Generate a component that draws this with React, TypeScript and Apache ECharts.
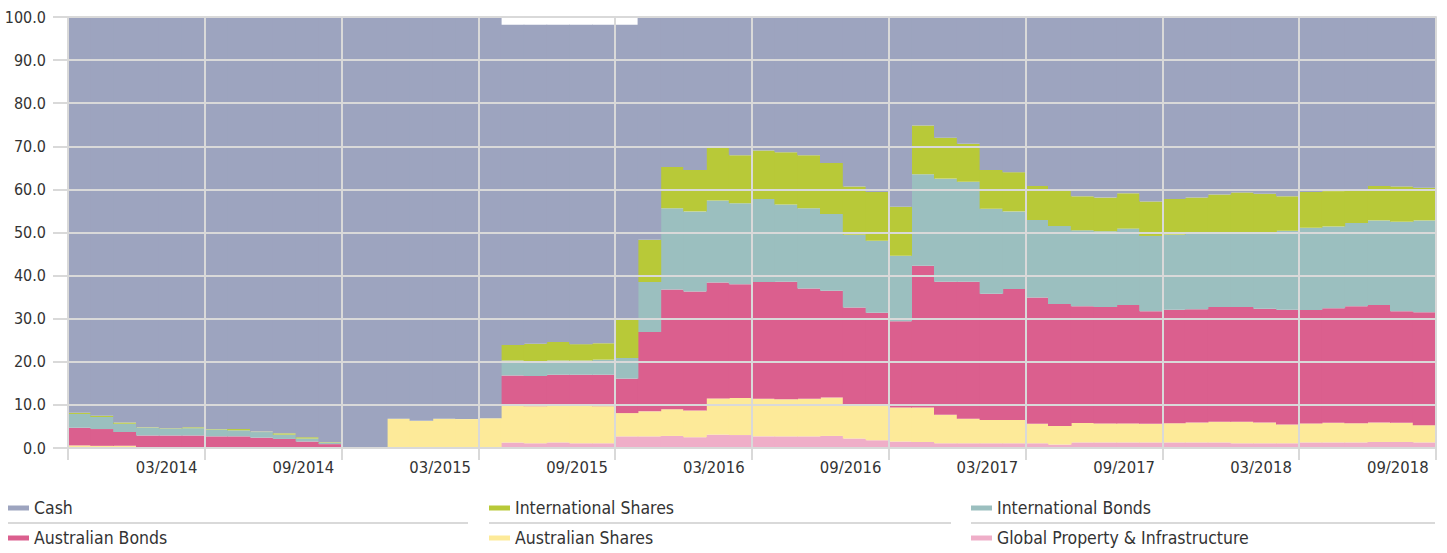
import React, { useEffect, useRef } from "react";
import * as echarts from "echarts";

const months: string[] = [
  "11/2013", "12/2013", "01/2014", "02/2014", "03/2014", "04/2014", "05/2014", "06/2014", "07/2014", "08/2014", "09/2014", "10/2014",
  "11/2014", "12/2014", "01/2015", "02/2015", "03/2015", "04/2015", "05/2015", "06/2015", "07/2015", "08/2015", "09/2015", "10/2015",
  "11/2015", "12/2015", "01/2016", "02/2016", "03/2016", "04/2016", "05/2016", "06/2016", "07/2016", "08/2016", "09/2016", "10/2016",
  "11/2016", "12/2016", "01/2017", "02/2017", "03/2017", "04/2017", "05/2017", "06/2017", "07/2017", "08/2017", "09/2017", "10/2017",
  "11/2017", "12/2017", "01/2018", "02/2018", "03/2018", "04/2018", "05/2018", "06/2018", "07/2018", "08/2018", "09/2018", "10/2018",
];

const globalProperty: number[] = [
  0, 0, 0, 0, 0, 0, 0, 0, 0, 0, 0, 0,
  0, 0, 0, 0, 0, 0, 0, 1.3, 1.1, 1.3, 1.1, 1.1,
  2.7, 2.7, 2.8, 2.5, 3.1, 3.0, 2.7, 2.7, 2.7, 2.8, 2.2, 1.8,
  1.5, 1.4, 1.1, 1.1, 1.1, 1.1, 1.1, 0.8, 1.3, 1.3, 1.3, 1.3,
  1.3, 1.3, 1.3, 1.1, 1.1, 1.1, 1.3, 1.3, 1.3, 1.4, 1.4, 1.3,
];
const australianShares: number[] = [
  0.6, 0.5, 0.5, 0, 0, 0, 0, 0, 0, 0, 0, 0,
  0, 0, 6.8, 6.3, 6.8, 6.7, 6.9, 8.6, 8.6, 8.6, 8.7, 8.6,
  5.4, 5.8, 6.2, 6.2, 8.4, 8.6, 8.7, 8.6, 8.7, 8.9, 7.8, 8.0,
  7.9, 8.0, 6.6, 5.7, 5.4, 5.4, 4.5, 4.3, 4.5, 4.4, 4.4, 4.3,
  4.45, 4.6, 4.8, 5.0, 4.8, 4.35, 4.4, 4.55, 4.45, 4.5, 4.45, 4.0,
];
const australianBonds: number[] = [
  4.1, 3.9, 3.2, 2.9, 2.9, 2.9, 2.7, 2.7, 2.4, 2.1, 1.5, 0.9,
  0, 0, 0, 0, 0, 0, 0, 6.9, 7.0, 7.1, 7.2, 7.3,
  8.0, 18.4, 27.8, 27.6, 26.9, 26.4, 27.1, 27.3, 25.6, 24.8, 22.6, 21.6,
  20.0, 32.9, 30.9, 31.8, 29.3, 30.4, 29.3, 28.3, 27.1, 27.0, 27.5, 26.1,
  26.35, 26.3, 26.6, 26.6, 26.4, 26.65, 26.3, 26.55, 27.15, 27.3, 25.85, 26.2,
];
const internationalBonds: number[] = [
  3.2, 2.8, 1.9, 1.8, 1.6, 1.7, 1.6, 1.4, 1.3, 1.0, 0.7, 0.4,
  0, 0, 0, 0, 0, 0, 0, 3.5, 3.4, 3.3, 3.3, 3.5,
  4.8, 11.6, 18.8, 18.6, 19.0, 18.8, 19.3, 17.9, 18.6, 17.8, 16.9, 16.7,
  15.2, 21.2, 23.9, 23.2, 19.7, 18.0, 18.0, 18.1, 17.6, 17.6, 17.7, 17.5,
  17.4, 17.5, 17.1, 17.1, 17.7, 18.3, 19.1, 19.0, 19.3, 19.6, 20.8, 21.3,
];
const internationalShares: number[] = [
  0.3, 0.3, 0.3, 0.1, 0.1, 0.2, 0.1, 0.3, 0.1, 0.3, 0.3, 0.1,
  0, 0, 0, 0, 0, 0, 0, 3.6, 4.1, 4.3, 3.8, 3.8,
  8.8, 9.8, 9.6, 9.6, 12.2, 11.1, 11.2, 12.1, 12.3, 11.8, 11.2, 11.3,
  11.4, 11.3, 9.5, 8.8, 9.0, 9.1, 7.9, 8.2, 7.9, 7.8, 8.2, 8.0,
  8.3, 8.4, 9.0, 9.5, 9.0, 8.0, 8.3, 8.2, 7.7, 8.0, 8.2, 7.6,
];
const cash: number[] = [
  91.8, 92.5, 94.1, 95.2, 95.4, 95.2, 95.6, 95.6, 96.2, 96.6, 97.5, 98.6,
  100, 100, 93.2, 93.7, 93.2, 93.3, 93.1, 74.3, 74.0, 73.6, 74.1, 73.9,
  68.5, 51.7, 34.8, 35.5, 30.4, 32.1, 31.0, 31.4, 32.1, 33.9, 39.3, 40.6,
  44.0, 25.2, 28.0, 29.4, 35.5, 36.0, 39.2, 40.3, 41.6, 41.9, 40.9, 42.8,
  42.2, 41.9, 41.2, 40.7, 41.0, 41.6, 40.6, 40.4, 40.1, 39.2, 39.3, 39.6,
];

const seriesDefs = [
  { name: "Global Property & Infrastructure", data: globalProperty, color: "#efaec8" },
  { name: "Australian Shares", data: australianShares, color: "#fdea99" },
  { name: "Australian Bonds", data: australianBonds, color: "#db5f8e" },
  { name: "International Bonds", data: internationalBonds, color: "#9bbfbf" },
  { name: "International Shares", data: internationalShares, color: "#b8c938" },
  { name: "Cash", data: cash, color: "#9da4bf" },
];

const FONT = "'DejaVu Sans Condensed', 'Liberation Sans Narrow', sans-serif";
const GRID = "#d9d9d9";
const TEXT = "#333333";

export default function App() {
  const ref = useRef<HTMLDivElement>(null);

  useEffect(() => {
    if (!ref.current) return;
    const chart = echarts.init(ref.current, null, { renderer: "svg" });

    const legendCommon = {
      orient: "vertical" as const,
      top: 496,
      padding: 0,
      icon: "rect",
      itemWidth: 21,
      itemHeight: 5,
      itemGap: 6,
      selectedMode: false,
      textStyle: { fontFamily: FONT, fontSize: 17.5, color: TEXT, lineHeight: 24 },
    };

    const option: any = {
      animation: false,
      backgroundColor: "#ffffff",
      grid: { left: 68, right: 11, top: 17, height: 431, containLabel: false },
      xAxis: {
        type: "category",
        data: months,
        boundaryGap: true,
        z: 5,
        axisLine: { show: true, lineStyle: { color: GRID, width: 2 } },
        axisTick: {
          show: true,
          length: 12,
          interval: (i: number) => i % 6 === 0,
          lineStyle: { color: GRID, width: 2 },
        },
        splitLine: {
          show: true,
          interval: (i: number) => i % 6 === 0,
          lineStyle: { color: GRID, width: 2 },
        },
        axisLabel: {
          interval: (i: number) => i % 6 === 4,
          fontFamily: FONT,
          fontSize: 16.5,
          color: TEXT,
          margin: 11,
          formatter: (v: string) => "{a|" + v + "}",
          rich: {
            a: { fontFamily: FONT, fontSize: 16.5, color: TEXT, padding: [0, 8, 0, 0] },
          },
        },
      },
      yAxis: [
        {
          type: "value",
          min: 0,
          max: 100,
          interval: 10,
          z: 5,
          axisLine: { show: false },
          axisTick: { show: true, length: 15, lineStyle: { color: GRID, width: 2 } },
          splitLine: { show: true, lineStyle: { color: GRID, width: 2 } },
          axisLabel: {
            fontFamily: FONT,
            fontSize: 16,
            color: TEXT,
            margin: 22,
            formatter: (v: number) => v.toFixed(1),
          },
        },
        {
          type: "value",
          position: "right",
          min: 0,
          max: 100,
          interval: 10,
          z: 5,
          axisLine: { show: true, lineStyle: { color: GRID, width: 2 } },
          axisTick: { show: false },
          splitLine: { show: false },
          axisLabel: { show: false },
        },
      ],
      legend: [
        { ...legendCommon, left: 8, data: ["Cash", "Australian Bonds"] },
        { ...legendCommon, left: 489, data: ["International Shares", "Australian Shares"] },
        { ...legendCommon, left: 971, data: ["International Bonds", "Global Property & Infrastructure"] },
      ],
      graphic: [
        { type: "line", shape: { x1: 8, y1: 523, x2: 468, y2: 523 }, style: { stroke: GRID, lineWidth: 2 } },
        { type: "line", shape: { x1: 489, y1: 523, x2: 951, y2: 523 }, style: { stroke: GRID, lineWidth: 2 } },
        { type: "line", shape: { x1: 971, y1: 523, x2: 1435, y2: 523 }, style: { stroke: GRID, lineWidth: 2 } },
      ],
      series: seriesDefs.map((s) => ({
        name: s.name,
        type: "bar",
        stack: "total",
        data: s.data,
        barWidth: 23.6,
        barGap: "0%",
        itemStyle: { color: s.color, borderWidth: 0 },
        emphasis: { disabled: true },
      })),
    };

    chart.setOption(option);
    return () => chart.dispose();
  }, []);

  return (
    <div
      ref={ref}
      style={{ position: "fixed", left: 0, top: 0, width: 1447, height: 553 }}
    />
  );
}
